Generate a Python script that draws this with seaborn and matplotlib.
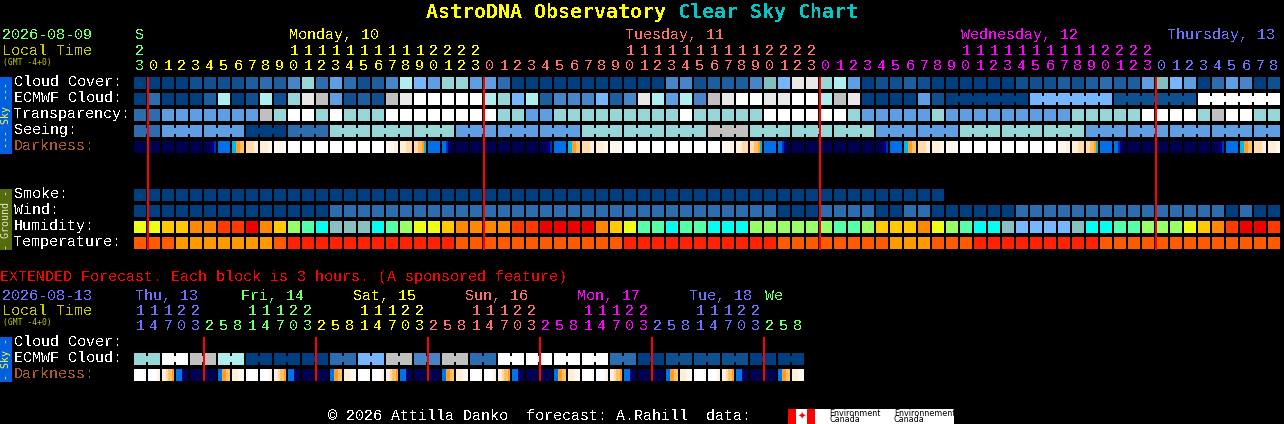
import numpy as np
import pandas as pd
import seaborn as sns
import matplotlib
matplotlib.use("Agg")
import matplotlib.pyplot as plt
from matplotlib.colors import ListedColormap

# ---------- data (colour-level codes) ----------
cloud_cover = "aaaabbbbcdceidfdbcehgfiif" "fdaaaaaaaaaaaeebcccejgllihf" "abbcbaaaaaabbbcbcdccfjgfadfeab"
ecmwf_runs = list("adaaachabhbilkfbcbklm") + list("mmmmhighceeegcelhfheklmmllmmhkl") + \
    list("aaaafb") + ["aaaaaa", "gggggg", "bbbbbb", "mmmmmm"]
transparency = "ddfffffffkimmimiiimmmmmmm" "miiffiiiiiiiiimiiiiimmmmmmi" "fffffifffffffffiiiiimmmmikmmii"
seeing_runs = ["dd", "fff", "fff", "aaa", "ddd", "iii", "iii", "iii", "fff", "fff", "fff", "iii", "iii", "iii",
               "kkk", "iii", "iii", "iii", "fff", "fff", "iii", "iii", "iii", "fff", "fff", "fff", "fff", "ff"]
dark_day = ["000000", "000000", "000000", "000000", "000000", "000112", "333333", "445566", "777788", "888899",
            "999999", "WWWWWW", "WWWWWW", "WWWWWW", "WWWWWW", "WWWWWW", "WWWWWW", "WWWWWW", "999988", "888777",
            "776654", "333333", "332100", "000000"]
darkness = dark_day + dark_day + dark_day + dark_day[:10]
smoke = "aaaaaaaaaaaaaaaaaaaaaaaaaaaaaaaaaaaaaaaaaaaaaaaaaaaaaaaaaa"
wind = "aaaaaaaaaaaaaa" "dddddddddddddddddddddddddddddddd" "aaa" "dddd" "aa" "dd" "aaaaaa" "ddddddddddddddd" "adaa"
humidity = "AABBCCDDECBLMNTTTNMLA" "ABCCCCDDEEEECBAMMNMMNNNLLLLLLMM" "LBBBCALMNNTGGGGTNNMMLLLABCDEED"
temperature = "PPP" "QQQQQQQ" "P" "RRRRRRRRRRRR" "PPPPPPPPPPPP" "RRRRRRRRRRR" "PPPPPPPP" "QQQ" "PPP" "RRRRRRRRR" "PPPPPPPPPPPPP"
ext_ecmwf_runs = ["ii", "mm", "kk", "hh", "aa", "aa", "aa", "dd", "gg", "kk", "ee", "kk", "dd", "mm", "mm", "mm",
                  "mm", "dd", "aa", "bb", "bb", "bb", "aa", "aa"]
ext_dark_day = ["WWWWWW", "WWWW98", "887665", "333100", "000000", "000000", "335566", "888999"]
ext_darkness = ext_dark_day * 6

main_hours = [23] + [0, 1, 2, 3, 4, 5, 6, 7, 8, 9, 10, 11, 12, 13, 14, 15, 16, 17, 18, 19, 20, 21, 22, 23] * 3 + \
    [0, 1, 2, 3, 4, 5, 6, 7, 8]
ext_hours = [11, 14, 17, 20, 23] + [2, 5, 8, 11, 14, 17, 20, 23] * 5 + [2, 5, 8]
GREEN, YELLOW, SALMON, MAGENTA, PERI = "#70FF70", "#FFFF00", "#FF7070", "#FF00FF", "#7070FF"
main_day_colors = [GREEN, YELLOW, SALMON, MAGENTA, PERI]
ext_day_colors = [PERI, GREEN, YELLOW, SALMON, MAGENTA, PERI, GREEN]

row_labels_main = [("Cloud Cover:", 77), ("ECMWF Cloud:", 93), ("Transparency:", 109), ("Seeing:", 125), ("Darkness:", 141),
                   ("Smoke:", 189), ("Wind:", 205), ("Humidity:", 221), ("Temperature:", 237)]
row_labels_ext = [("Cloud Cover:", 337), ("ECMWF Cloud:", 353), ("Darkness:", 369)]
main_day_names = [("S", 135), ("Monday, 10", 289), ("Tuesday, 11", 625), ("Wednesday, 12", 961), ("Thursday, 13", 1167)]
ext_day_names = [("Thu, 13", 135), ("Fri, 14", 241), ("Sat, 15", 353), ("Sun, 16", 465), ("Mon, 17", 577),
                 ("Tue, 18", 689), ("We", 765)]

# ---------- palettes ----------
CLOUD = {"a": "#003F7F", "b": "#0F5090", "c": "#1C5FA0", "d": "#2B6DAE", "e": "#4585C8", "f": "#5E9EE2",
         "g": "#76B6FF", "h": "#AEEEEE", "i": "#96D6D6", "j": "#80C0C0", "k": "#C0C0C0", "l": "#E8E8E8", "m": "#FFFFFF"}
HUMID = {"A": "#ECFF14", "B": "#FFC800", "C": "#FF8800", "D": "#FF3A00", "E": "#EE0000", "L": "#99FF66",
         "M": "#55FFAA", "N": "#00FFEE", "T": "#88BFBF", "G": "#77B7FF"}
TEMP = {"P": "#FF5A00", "Q": "#FF9900", "R": "#FF2200"}
DARK = {"0": "#000050", "1": "#00007A", "2": "#0030B0", "3": "#0070E8", "4": "#00B8E8", "5": "#FFA020",
        "6": "#FFC060", "7": "#FFDCA8", "8": "#FFEFD8", "9": "#FFF8F0", "W": "#FFFFFF"}

W, H = 1284, 424
sns.set_theme(style="dark")
BODY = "Liberation Mono"
plt.rcParams["font.family"] = [BODY, "DejaVu Sans Mono"]
plt.rcParams["text.antialiased"] = False
plt.rcParams["axes.facecolor"] = "black"
fig = plt.figure(figsize=(W / 100, H / 100), dpi=100, facecolor="black")
PX = 72 / 100


def px_axes(left, top, width, height):
    ax = fig.add_axes([left / W, 1 - (top + height) / H, width / W, height / H])
    ax.set_facecolor("black")
    return ax


def block_row(codes, top, palette, ncols, runs=None):
    """One row of 12x12 blocks, 14 px apart, drawn as a seaborn heatmap."""
    keys = list(palette)
    vals = np.full((1, ncols), np.nan)
    for i, c in enumerate(codes):
        vals[0, i] = keys.index(c)
    ax = px_axes(133, top - 1, 14 * ncols, 14)
    sns.heatmap(pd.DataFrame(vals), ax=ax, cmap=ListedColormap([palette[k] for k in keys]),
                vmin=-0.5, vmax=len(keys) - 0.5, cbar=False, xticklabels=False, yticklabels=False,
                linewidths=2 * PX, linecolor="black", mask=np.isnan(vals))
    ax.set_xlabel("")
    ax.set_ylabel("")
    if runs:
        i = 0
        for run in runs:
            for j in range(1, len(run)):
                ax.hlines(0.5, i + j - 1 / 14, i + j + 1 / 14, colors=palette[run[0]], lw=6 * PX,
                          capstyle="butt", zorder=5)
            i += len(run)


def dark_row(blocks, top, palette):
    """Darkness bar: six 2 px samples per block plus one masked gap column."""
    keys = list(palette)
    vals = np.full((1, 7 * len(blocks)), np.nan)
    for b, samples in enumerate(blocks):
        for s, c in enumerate(samples):
            vals[0, 7 * b + s] = keys.index(c)
    ax = px_axes(134, top, 14 * len(blocks), 12)
    sns.heatmap(pd.DataFrame(vals), ax=ax, cmap=ListedColormap([palette[k] for k in keys]),
                vmin=-0.5, vmax=len(keys) - 0.5, cbar=False, xticklabels=False, yticklabels=False,
                mask=np.isnan(vals))
    ax.set_xlabel("")
    ax.set_ylabel("")


block_row(cloud_cover, 77, CLOUD, 82)
block_row("".join(ecmwf_runs), 93, CLOUD, 82, ecmwf_runs)
block_row(transparency, 109, CLOUD, 82)
block_row("".join(seeing_runs), 125, CLOUD, 82, seeing_runs)
dark_row(darkness, 141, DARK)
block_row(smoke, 189, CLOUD, 82)
block_row(wind, 205, CLOUD, 82)
block_row(humidity, 221, HUMID, 82)
block_row(temperature, 237, TEMP, 82)
block_row("".join(ext_ecmwf_runs), 353, CLOUD, 48, ext_ecmwf_runs)
dark_row(ext_darkness, 369, DARK)

# ---------- overlay in pixel coordinates ----------
ov = fig.add_axes([0, 0, 1, 1], zorder=10)
ov.set_xlim(0, W)
ov.set_ylim(H, 0)
ov.axis("off")
ov.patch.set_alpha(0)


def col_x(i):
    return 134 + 14 * i


def midnight_cols(hours):
    return [i for i in range(1, len(hours)) if hours[i] < hours[i - 1]]


ov.vlines([col_x(i) for i in midnight_cols(main_hours)], 77, 250, colors="#FF0000", lw=2 * PX)
ov.vlines([col_x(i) for i in midnight_cols(ext_hours)], 337, 381, colors="#FF0000", lw=2 * PX)

FS = 15 * PX
TXT = dict(family=BODY, va="center", ha="left", fontsize=FS)
SMALL = dict(family="DejaVu Sans Mono", va="center", ha="left", fontsize=8 * PX, antialiased=True)

ov.text(426, 13, "AstroDNA Observatory", color="#FFFF00", fontweight="bold", family="DejaVu Sans Mono",
        fontsize=20 * PX, va="center", ha="left")
ov.text(678, 13, "Clear Sky Chart", color="#00C8C8", fontweight="bold", family="DejaVu Sans Mono",
        fontsize=20 * PX, va="center", ha="left")


def hour_digits(hours, day_colors, y_tens, y_ones):
    day = 0
    for i, h in enumerate(hours):
        if i and h < hours[i - 1]:
            day += 1
        c = day_colors[day]
        x = col_x(i) + 6
        if h >= 10:
            ov.text(x, y_tens, str(h // 10), color=c, ha="center", va="center", fontsize=FS, family=BODY)
        ov.text(x, y_ones, str(h % 10), color=c, ha="center", va="center", fontsize=FS, family=BODY)


ov.text(2, 35, "2026-08-09", color=GREEN, **TXT)
ov.text(2, 51, "Local Time", color="#C8C800", **TXT)
ov.text(3, 62, "(GMT -4+0)", color="#C8C800", **SMALL)
for (name, x), c in zip(main_day_names, main_day_colors):
    ov.text(x, 35, name, color=c, **TXT)
hour_digits(main_hours, main_day_colors, 51, 66)

for label, top in row_labels_main:
    ov.text(14, top + 5, label, color="#A85A28" if label.startswith("Dark") else "#FFFFFF", **TXT)

ov.text(0, 277, "EXTENDED Forecast. Each block is 3 hours. (A sponsored feature)", color="#FF0000", **TXT)
ov.text(2, 296, "2026-08-13", color=PERI, **TXT)
ov.text(2, 311, "Local Time", color="#C8C800", **TXT)
ov.text(3, 322, "(GMT -4+0)", color="#C8C800", **SMALL)
for (name, x), c in zip(ext_day_names, ext_day_colors):
    ov.text(x, 296, name, color=c, **TXT)
hour_digits(ext_hours, ext_day_colors, 311, 326)
for label, top in row_labels_ext:
    ov.text(14, top + 5, label, color="#A85A28" if label.startswith("Dark") else "#FFFFFF", **TXT)

# side bars
for x0, y0, y1, col, txt_col, label in [(0, 77, 154, "#0060E0", "#FFFF40", "--- Sky ---"),
                                        (0, 189, 250, "#556B10", "#E8E8C0", "- Ground -"),
                                        (0, 337, 382, "#0060E0", "#FFFF40", "- Sky -")]:
    ov.add_patch(plt.Rectangle((x0, y0), 12, y1 - y0, facecolor=col, edgecolor="none"))
    ov.text(6, (y0 + y1) / 2, label, color=txt_col, rotation=90, ha="center", va="center",
            fontsize=10 * PX, family="DejaVu Sans Mono", antialiased=True)

# footer and logo
ov.text(328, 416, "\u00a9 2026 Attilla Danko  forecast: A.Rahill  data:", color="#FFFFFF", **TXT)
ov.add_patch(plt.Rectangle((788, 409), 166, 15, facecolor="#FFFFFF", edgecolor="none"))
ov.add_patch(plt.Rectangle((788, 409), 8, 15, facecolor="#FF0000", edgecolor="none"))
ov.add_patch(plt.Rectangle((807, 409), 8, 15, facecolor="#FF0000", edgecolor="none"))
ov.text(801.5, 416.5, "\u2726", color="#FF0000", ha="center", va="center", fontsize=10 * PX, family="DejaVu Sans",
        antialiased=True)
for x, word in [(829, "Environment"), (894, "Environnement")]:
    ov.text(x, 413, word, color="#000000", ha="left", va="center", fontsize=8 * PX, family="DejaVu Sans", antialiased=True)
    ov.text(x, 420, "Canada", color="#000000", ha="left", va="center", fontsize=8 * PX, family="DejaVu Sans", antialiased=True)

fig.savefig("out.png", dpi=100, facecolor="black")
